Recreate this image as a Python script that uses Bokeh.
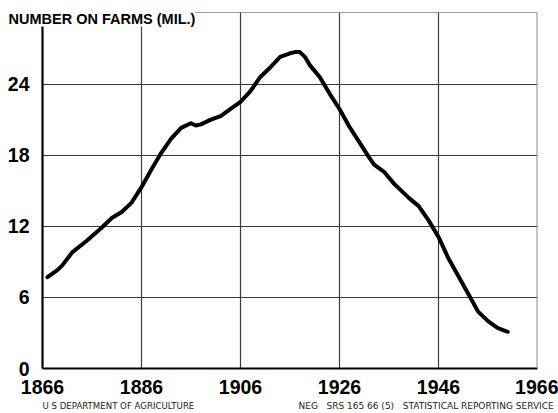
from bokeh.plotting import figure
from bokeh.models import Range1d, FixedTicker, Span, Title
from bokeh.embed import file_html
from bokeh.resources import INLINE

# ---- data ----
years = [1867, 1869, 1870, 1872, 1875, 1878, 1880, 1882, 1884, 1886, 1888, 1890,
         1892, 1894, 1896, 1897, 1898, 1900, 1902, 1904, 1906, 1908, 1910, 1912,
         1914, 1916, 1917, 1918, 1919, 1920, 1922, 1924, 1926, 1928, 1930, 1932,
         1933, 1935, 1937, 1939, 1940, 1942, 1944, 1946, 1948, 1950, 1952, 1954,
         1956, 1958, 1960]
number_mil = [7.7, 8.3, 8.7, 9.8, 10.8, 11.9, 12.7, 13.2, 14.0, 15.3, 16.8, 18.2,
              19.4, 20.3, 20.7, 20.5, 20.6, 21.0, 21.3, 21.9, 22.5, 23.4, 24.6, 25.4,
              26.3, 26.6, 26.7, 26.7, 26.3, 25.6, 24.6, 23.2, 21.9, 20.4, 19.1, 17.8,
              17.2, 16.6, 15.6, 14.8, 14.4, 13.7, 12.5, 11.1, 9.3, 7.8, 6.3, 4.8,
              4.0, 3.4, 3.1]
x_ticks = [1866, 1886, 1906, 1926, 1946, 1966]
y_ticks = [0, 6, 12, 18, 24]
x_grid = [1886, 1906, 1926, 1946]
y_grid = [6, 12, 18, 24, 30]
title_text = "NUMBER ON FARMS (MIL.)"
footer_left = "U S DEPARTMENT OF AGRICULTURE"
footer_right = "NEG\u00a0\u00a0\u00a0SRS 165 66 (5)\u00a0\u00a0\u00a0STATISTICAL REPORTING SERVICE"

X0, X1, Y0, Y1 = 1866, 1966, 0, 30

# ---- layout (pixels) ----
FL, FR, FT, FB = 42, 537, 12, 368  # frame edges
W, H = 558, 413
BOLD_FONT = "Liberation Sans"

p = figure(width=W, height=H, output_backend="svg", toolbar_location=None,
           x_range=Range1d(X0, X1), y_range=Range1d(Y0, Y1 + 0.04),
           min_border_left=FL, min_border_right=W - FR,
           min_border_top=FT, min_border_bottom=H - FB)
p.outline_line_color = None
p.background_fill_color = "white"
p.border_fill_color = "white"

# grid (top grid line at 30 acts as the top border)
p.xgrid.ticker = FixedTicker(ticks=x_grid)
p.ygrid.ticker = FixedTicker(ticks=y_grid)
for g in (p.xgrid, p.ygrid):
    g.grid_line_color = "#3a3a3a"
    g.grid_line_width = 1.2

# axes
for ax in (p.xaxis, p.yaxis):
    ax.axis_line_color = "black"
    ax.axis_line_width = 2.2
    ax.major_tick_in = 0
    ax.major_tick_out = 0
    ax.minor_tick_in = 0
    ax.minor_tick_out = 0
    ax.major_label_text_font = BOLD_FONT
    ax.major_label_text_font_style = "bold"
    ax.major_label_text_font_size = "19.5px"
    ax.major_label_text_color = "black"
p.xaxis.ticker = FixedTicker(ticks=x_ticks)
p.yaxis.ticker = FixedTicker(ticks=y_ticks)
p.xaxis.major_label_standoff = 11
p.yaxis.major_label_standoff = 13

# right border
p.add_layout(Span(location=X1, dimension="height", line_color="#8a8a8a", line_width=2))

# data line
p.line(years, number_mil, line_color="black", line_width=4, line_join="round", line_cap="round")

# title: negative standoff pulls it down over the top-left of the frame
p.add_layout(Title(text=title_text, align="left", offset=8 - FL, standoff=-28,
                   vertical_align="bottom", text_font=BOLD_FONT, text_font_style="bold",
                   text_font_size="14.5px", text_color="black",
                   background_fill_color="white"), "above")

# footers (zero layout height each, both on the same line)
p.add_layout(Title(text=footer_left, align="left", offset=0, standoff=-28,
                   vertical_align="bottom", text_font="DejaVu Sans", text_font_style="normal",
                   text_font_size="8.6px", text_color="#222222"), "below")
p.add_layout(Title(text=footer_right, align="left", offset=298 - FL, standoff=-28,
                   vertical_align="bottom", text_font="DejaVu Sans", text_font_style="normal",
                   text_font_size="9px", text_color="#222222"), "below")

open("out.html", "w").write(file_html(p, INLINE))
